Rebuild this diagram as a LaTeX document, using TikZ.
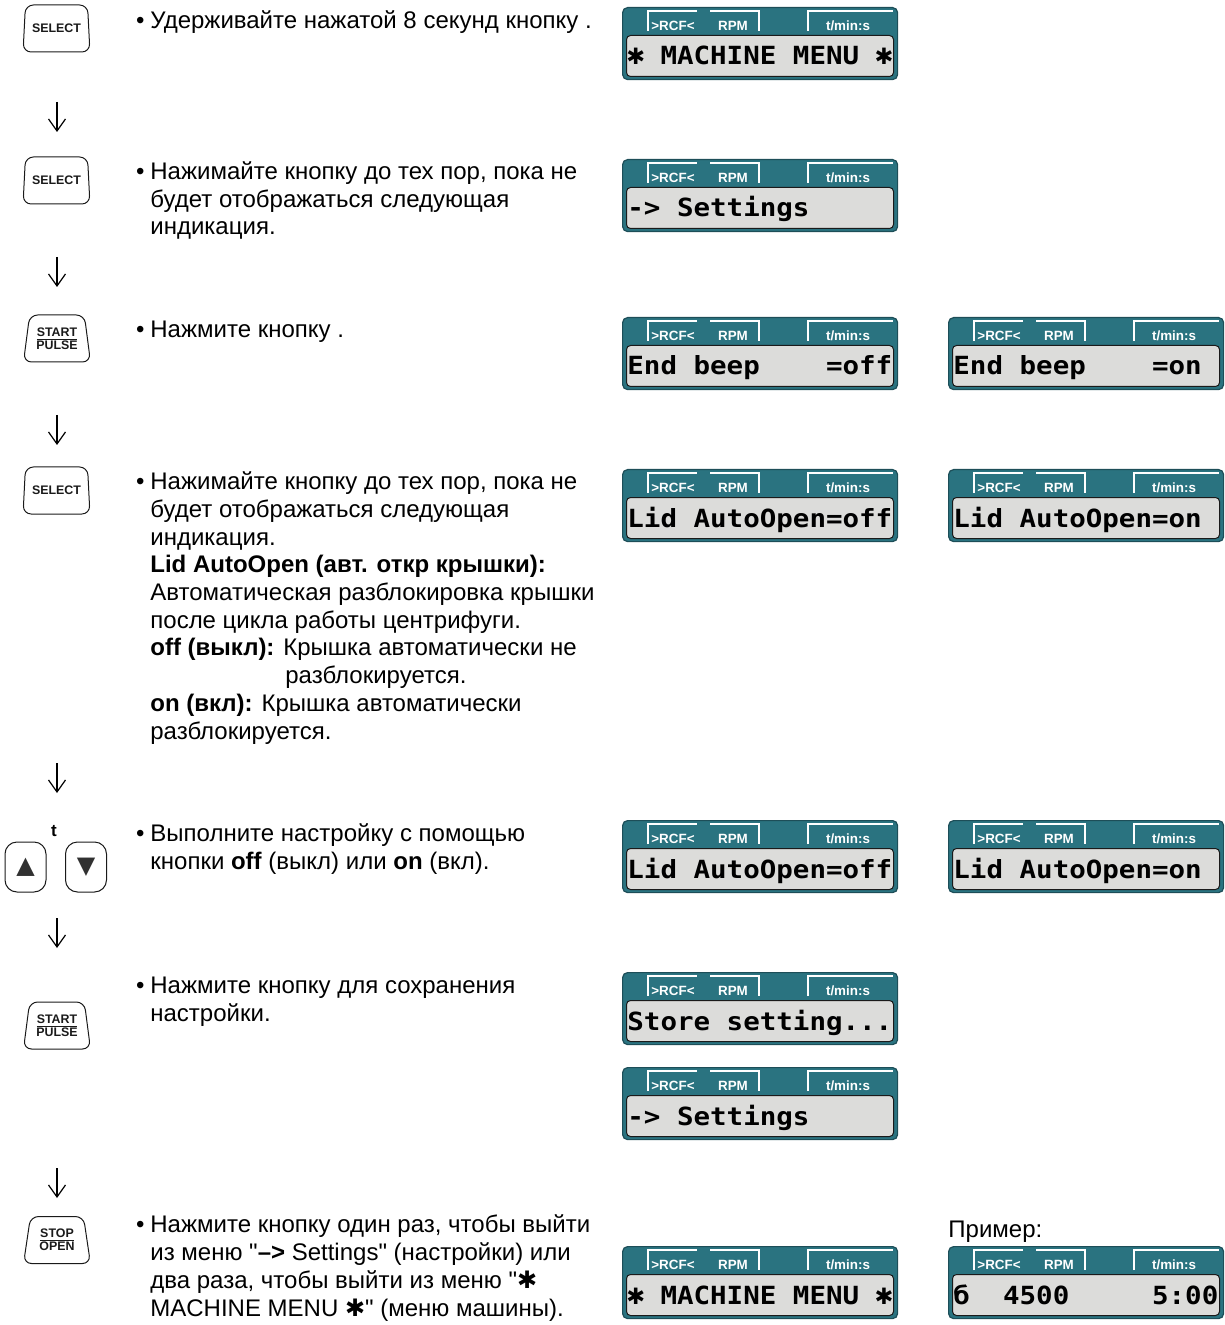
\documentclass[tikz,border=0pt]{standalone}
\usepackage{fontspec}
\usepackage{graphicx}
\setmainfont{Liberation Sans}
\newfontfamily\lcdfont[FakeStretch=1.1]{DejaVu Sans Mono}
\newfontfamily\symfont{DejaVu Sans}
\usetikzlibrary{shapes.geometric,arrows.meta}
\definecolor{lcdteal}{HTML}{2A7380}
\definecolor{lcdedge}{HTML}{1D4E58}
\definecolor{lcdgray}{HTML}{DCDCDA}
\definecolor{keyink}{HTML}{1A1A1A}
\newcommand{\lcdstar}{\makebox[0.662em]{\scalebox{0.9}{\symfont\bfseries ✱}}}

\begin{document}
\begin{tikzpicture}[x=0.5pt, y=-0.5pt,
    keycap/.style={trapezium, trapezium angle=78, trapezium stretches=true,
      minimum width=33.5pt, minimum height=23.5pt, draw=keyink, line width=0.5pt,
      rounded corners=4pt, inner sep=0pt, align=center,
      font=\fontsize{6.2}{6.5}\selectfont\bfseries, text=keyink},
    arrowkey/.style={draw=keyink, line width=0.5pt, rounded corners=6pt,
      minimum width=20.5pt, minimum height=25pt, inner sep=0pt,
      font=\symfont\fontsize{12}{12}\selectfont, text=keyink!90},
    body/.style={anchor=base west, inner sep=0pt, align=left,
      font=\fontsize{12}{13.85}\selectfont},
    flowarrow/.style={-{Straight Barb[length=6pt,width=8.5pt]}, line width=0.6pt},
    lcdcase/.style={anchor=north west, fill=lcdteal, draw=lcdedge, line width=0.6pt,
      rounded corners=2.5pt, minimum width=137.5pt, minimum height=36pt, inner sep=0pt},
    lcdscreen/.style={anchor=north west, fill=lcdgray, draw=keyink, line width=0.5pt,
      rounded corners=2pt, minimum width=133.5pt, minimum height=20.5pt, inner sep=0pt},
    tab/.style={draw=white, line width=1pt},
    tablbl/.style={text=white, inner sep=0pt, font=\fontsize{6.7}{6.7}\selectfont\bfseries},
    lcdtext/.style={anchor=base west, inner sep=0pt,
      font=\lcdfont\bfseries\fontsize{12.5}{14}\selectfont},
  ]
  \useasboundingbox (0,0) rectangle (1224,1325);

  % keys on the left
  \node[keycap] (sel1) at (56.5,28.5) {SELECT};
  \node[keycap] (sel2) at (56.5,180.5) {SELECT};
  \node[keycap] (start1) at (57,338.5) {\underline{START}\\PULSE};
  \node[keycap] (sel3) at (56.5,490.5) {SELECT};
  \node[arrowkey] (up) at (25.5,867) {▲};
  \node[arrowkey] (down) at (86,867) {▼};
  \node[font=\fontsize{8.5}{8.5}\selectfont\bfseries, inner sep=0pt] (tkey) at (54,831) {t};
  \node[keycap] (start2) at (57,1025.5) {\underline{START}\\PULSE};
  \node[keycap] (stop) at (57,1240) {\underline{STOP}\\OPEN};

  % arrows between the steps
  \foreach \c [count=\j] in {117,272,430,778,933,1183} {
    \coordinate (from\j) at (57,\c-15);
    \coordinate (to\j) at (57,\c+15);
    \draw[flowarrow] (from\j) -- (to\j);
  }

  % instructions (base = baseline of the last line)
  \node[body] (txt1) at (150,29)
    {\llap{•\hspace{3pt}}Удерживайте нажатой 8 секунд кнопку .};
  \node[body] (txt2) at (150,235)
    {\llap{•\hspace{3pt}}Нажимайте кнопку до тех пор, пока не\\
     будет отображаться следующая\\
     индикация.};
  \node[body] (txt3) at (150,338)
    {\llap{•\hspace{3pt}}Нажмите кнопку .};
  \node[body] (txt4) at (150,739)
    {\llap{•\hspace{3pt}}Нажимайте кнопку до тех пор, пока не\\
     будет отображаться следующая\\
     индикация.\\
     \textbf{Lid AutoOpen (авт. откр крышки):}\\
     Автоматическая разблокировка крышки\\
     после цикла работы центрифуги.\\
     \textbf{off (выкл):} Крышка автоматически не\\
     \hspace*{67.5pt}разблокируется.\\
     \textbf{on (вкл):} Крышка автоматически\\
     разблокируется.};
  \node[body] (txt5) at (150,869)
    {\llap{•\hspace{3pt}}Выполните настройку с помощью\\
     кнопки \textbf{off} (выкл) или \textbf{on} (вкл).};
  \node[body] (txt6) at (150,1021)
    {\llap{•\hspace{3pt}}Нажмите кнопку для сохранения\\
     настройки.};
  \node[body] (txt7) at (150,1316)
    {\llap{•\hspace{3pt}}Нажмите кнопку один раз, чтобы выйти\\
     из меню \textquotedbl\textbf{–>} Settings\textquotedbl{} (настройки) или\\
     два раза, чтобы выйти из меню \textquotedbl{\symfont\bfseries ✱}\\
     MACHINE MENU {\symfont\bfseries ✱}\textquotedbl{} (меню машины).};
  \node[body] (example) at (948,1237) {Пример:};

  % displays
  \foreach \x/\y/\s [count=\i] in {
      622/7/{\lcdstar~MACHINE~MENU~\lcdstar}, 622/159/{->~Settings},
      622/317/{End~beep~~~~=off}, 948/317/{End~beep~~~~=on},
      622/469/{Lid~AutoOpen=off}, 948/469/{Lid~AutoOpen=on},
      622/820/{Lid~AutoOpen=off}, 948/820/{Lid~AutoOpen=on},
      622/972/{Store~setting...}, 622/1067/{->~Settings},
      622/1246/{\lcdstar~MACHINE~MENU~\lcdstar}, 948/1246/{б~~4500~~~~~5:00}} {
    \node[lcdcase] (lcd\i) at (\x,\y) {};
    \node[lcdscreen] (scr\i) at (\x+4,\y+28) {};
    \draw[tab] (\x+26,\y+24) -- (\x+26,\y+4) -- (\x+75,\y+4);
    \draw[tab] (\x+88,\y+4) -- (\x+137,\y+4) -- (\x+137,\y+24);
    \draw[tab] (\x+186,\y+24) -- (\x+186,\y+4) -- (\x+271,\y+4);
    \node[tablbl] (rcf\i) at (\x+51,\y+19) {>RCF<};
    \node[tablbl] (rpm\i) at (\x+111,\y+19) {RPM};
    \node[tablbl] (tms\i) at (\x+226,\y+19) {t/min:s};
    \node[lcdtext] (val\i) at (\x+5,\y+58) {\s};
  }
\end{tikzpicture}
\end{document}
